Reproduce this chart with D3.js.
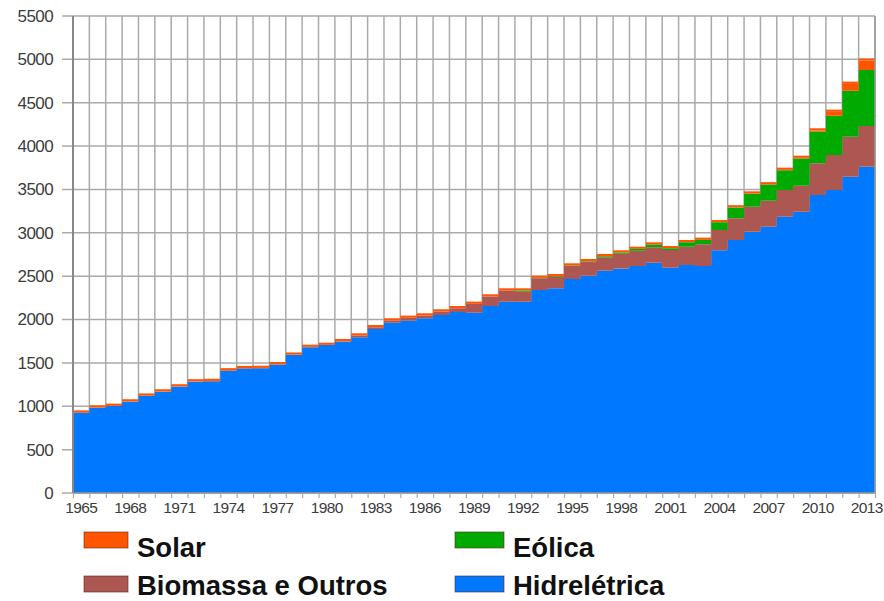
<!DOCTYPE html>
<html lang="pt">
<head>
  <meta charset="UTF-8">
  <title>Energia renovável</title>
  <script src="https://cdn.jsdelivr.net/npm/d3@7"></script>
  <style>
    body {
      margin: 0;
      background: #fff;
      font-family: Arial, "Liberation Sans", sans-serif;
    }
    svg {
      display: block;
    }
    .grid line {
      stroke: #aaa;
      stroke-width: 1.5;
    }
    .tick text {
      fill: #3c3c3c;
    }
    .legend text {
      font-weight: bold;
      font-size: 27.5px;
      fill: #111;
    }
  </style>
</head>
<body>
  <svg width="884" height="601"></svg>
  <script>
    // Data
    const years = d3.range(1965, 2014);

    const hydro = [
      925, 984, 1003, 1053, 1120, 1168, 1226, 1283, 1288, 1410,
      1435, 1437, 1480, 1590, 1680, 1706, 1745, 1795, 1891, 1964,
      1987, 2014, 2052, 2087, 2079, 2156, 2206, 2206, 2341, 2360,
      2467, 2506, 2563, 2590, 2617, 2656, 2598, 2629, 2617, 2800,
      2917, 3013, 3071, 3186, 3243, 3436, 3494, 3647, 3762
    ];
    const biomass = [
      2, 2, 2, 3, 3, 3, 3, 4, 4, 4,
      5, 5, 5, 5, 5, 2, 6, 21, 21, 25,
      33, 33, 41, 44, 102, 110, 129, 115, 136, 134,
      150, 160, 154, 168, 175, 177, 204, 211, 250, 232,
      250, 288, 300, 308, 300, 365, 403, 461, 470
    ];
    const wind = [
      0, 0, 0, 0, 0, 0, 0, 0, 0, 0,
      0, 0, 0, 0, 0, 0, 0, 0, 0, 0,
      0, 0, 0, 0, 0, 0, 0, 14, 4, 6,
      6, 7, 14, 15, 23, 32, 21, 52, 52, 90,
      125, 150, 185, 228, 313, 367, 452, 530, 645
    ];
    const solar = [
      0, 0, 0, 0, 0, 0, 0, 0, 0, 0,
      0, 0, 0, 0, 0, 0, 0, 0, 0, 0,
      0, 0, 0, 0, 0, 0, 0, 0, 0, 0,
      0, 0, 0, 0, 0, 0, 0, 0, 0, 0,
      1, 2, 3, 4, 8, 12, 46, 80, 108
    ];

    const yTicks = d3.range(0, 5501, 500);
    const xLabels = years.filter((d, i) => i % 3 === 0);

    const keys = ['hydro', 'biomass', 'wind', 'solar'];
    const colors = {
      hydro: '#0078ff',
      biomass: '#ad5752',
      wind: '#00aa00',
      solar: '#ff5500'
    };
    const legendItems = [
      { key: 'solar', label: 'Solar', col: 0, row: 0 },
      { key: 'biomass', label: 'Biomassa e Outros', col: 0, row: 1 },
      { key: 'wind', label: 'Eólica', col: 1, row: 0 },
      { key: 'hydro', label: 'Hidrelétrica', col: 1, row: 1 }
    ];

    const table = years.map((year, i) => ({
      year,
      hydro: hydro[i],
      biomass: biomass[i],
      wind: wind[i],
      solar: solar[i]
    }));

    const plotLeft = 73, plotRight = 875, plotTop = 16, plotBottom = 493;

    const svg = d3.select('svg');

    const x = d3.scaleBand().domain(years).range([plotLeft, plotRight]);
    const xEdge = d3.scaleLinear().domain([1965, 2014]).range([plotLeft, plotRight]);
    const y = d3.scaleLinear().domain([0, 5500]).range([plotBottom, plotTop]);

    // grid
    const grid = svg.append('g').attr('class', 'grid');
    grid.selectAll('.h')
      .data(yTicks)
      .join('line')
      .attr('class', 'h')
      .attr('x1', plotLeft - 11)
      .attr('x2', plotRight)
      .attr('y1', d => y(d))
      .attr('y2', d => y(d));
    grid.selectAll('.v')
      .data(d3.range(1966, 2015))
      .join('line')
      .attr('class', 'v')
      .attr('x1', d => xEdge(d))
      .attr('x2', d => xEdge(d))
      .attr('y1', plotTop)
      .attr('y2', plotBottom);

    // stacked step areas
    const series = d3.stack().keys(keys)(table);
    const area = d3.area()
      .curve(d3.curveStepAfter)
      .x(d => d.x)
      .y0(d => y(d.y0))
      .y1(d => y(d.y1));

    svg.append('g')
      .selectAll('path')
      .data(series)
      .join('path')
      .attr('fill', s => colors[s.key])
      .attr('d', s => {
        const pts = s.map(d => ({ x: x(d.data.year), y0: d[0], y1: d[1] }));
        const last = s[s.length - 1];
        pts.push({ x: x(last.data.year) + x.bandwidth(), y0: last[0], y1: last[1] });
        return area(pts);
      });

    // thin orange edge on top of the stack
    const totals = series[series.length - 1];
    svg.append('g')
      .selectAll('line')
      .data(totals)
      .join('line')
      .attr('x1', d => x(d.data.year))
      .attr('x2', d => x(d.data.year) + x.bandwidth())
      .attr('y1', d => y(d[1]) - 1.1)
      .attr('y2', d => y(d[1]) - 1.1)
      .attr('stroke', colors.solar)
      .attr('stroke-width', 2.2);

    // frame
    svg.append('line')
      .attr('x1', plotLeft).attr('x2', plotLeft)
      .attr('y1', plotTop).attr('y2', plotBottom)
      .attr('stroke', '#888').attr('stroke-width', 2);
    svg.append('line')
      .attr('x1', plotLeft).attr('x2', plotRight)
      .attr('y1', plotBottom).attr('y2', plotBottom)
      .attr('stroke', '#999').attr('stroke-width', 1.5);
    svg.append('line')
      .attr('x1', plotRight).attr('x2', plotRight)
      .attr('y1', plotTop).attr('y2', plotBottom)
      .attr('stroke', '#999').attr('stroke-width', 1.5);

    // y axis labels
    const yAxis = svg.append('g')
      .attr('transform', `translate(${plotLeft},0)`)
      .call(d3.axisLeft(y).tickValues(yTicks).tickSize(0).tickPadding(20).tickFormat(d3.format('d')));
    yAxis.select('.domain').remove();
    yAxis.selectAll('text')
      .attr('font-size', 17)
      .attr('letter-spacing', -0.6)
      .attr('font-family', 'Arial, "Liberation Sans", sans-serif');

    // x axis: small ticks at year edges, labels every 3 years
    const xTickAxis = svg.append('g')
      .attr('transform', `translate(0,${plotBottom})`)
      .call(d3.axisBottom(xEdge).tickValues(d3.range(1965, 2015)).tickSize(5).tickFormat(''));
    xTickAxis.select('.domain').remove();
    xTickAxis.selectAll('line').attr('stroke', '#aaa').attr('stroke-width', 1.2);

    const xAxis = svg.append('g')
      .attr('transform', `translate(0,${plotBottom})`)
      .call(d3.axisBottom(x).tickValues(xLabels).tickSize(0).tickPadding(9));
    xAxis.select('.domain').remove();
    xAxis.selectAll('text')
      .attr('font-size', 15.5)
      .attr('letter-spacing', -0.6)
      .attr('font-family', 'Arial, "Liberation Sans", sans-serif');

    // legend
    const legend = svg.append('g').attr('class', 'legend')
      .selectAll('g')
      .data(legendItems)
      .join('g')
      .attr('transform', d => `translate(${d.col ? 455 : 84},${d.row ? 576 : 532})`);
    legend.append('rect')
      .attr('width', d => d.col ? 49 : 44)
      .attr('height', 16)
      .attr('fill', d => colors[d.key])
      .attr('stroke', '#5a2a20')
      .attr('stroke-opacity', 0.6)
      .attr('stroke-width', 1);
    legend.append('text')
      .attr('x', d => d.col ? 58 : 53)
      .attr('y', d => d.row ? 19 : 25)
      .text(d => d.label);
  </script>
</body>
</html>
